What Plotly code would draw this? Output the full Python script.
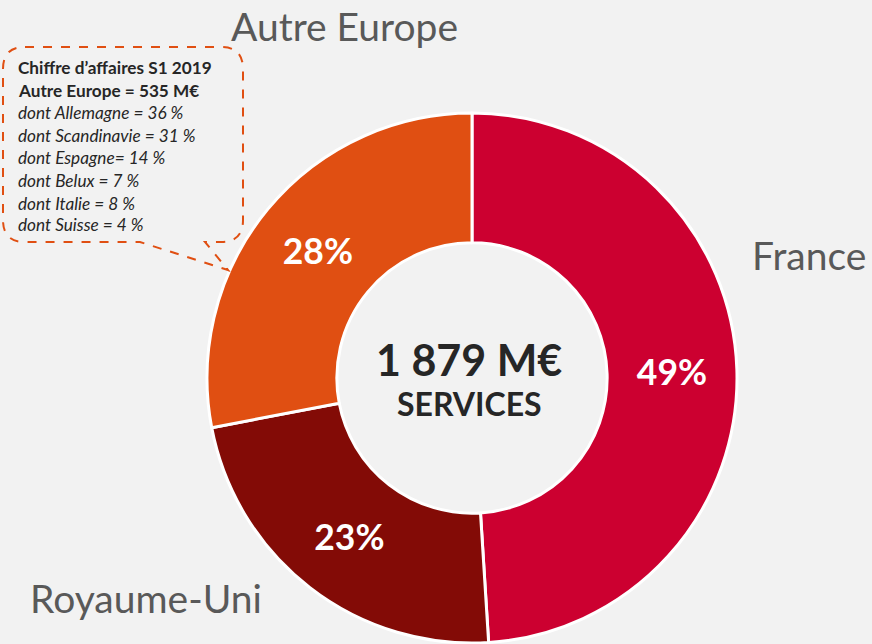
import plotly.graph_objects as go

regions = ["France", "Royaume-Uni", "Autre Europe"]
shares = [49, 23, 28]
colors = ["#CC0030", "#830B06", "#E04F12"]
total_label = "1 879 M€"
segment_label = "SERVICES"
callout_title = ["Chiffre d\u2019affaires S1 2019", "Autre Europe = 535 M€"]
callout_lines = ["dont Allemagne = 36 %", "dont Scandinavie = 31 %", "dont Espagne= 14 %",
                 "dont Belux = 7 %", "dont Italie = 8 %", "dont Suisse = 4 %"]

W, H = 872, 644
def px(x): return x / W
def py(y): return 1 - y / H

BG = "#F2F2F2"
FONT = "Lato"

fig = go.Figure(go.Pie(
    labels=regions, values=shares, sort=False, direction="clockwise", rotation=0,
    hole=0.51, marker=dict(colors=colors, line=dict(color="white", width=3)),
    text=[f"{v}%" for v in shares], textinfo="text", textposition="inside",
    insidetextorientation="horizontal",
    textfont=dict(family=FONT, size=35.5, color="white", weight="bold"),
    domain=dict(x=[px(207), px(737)], y=[py(643), py(113)]),
    showlegend=False, hoverinfo="label+percent",
))

ann = []
# outer labels
ann.append(dict(x=px(344), y=py(26), text="Autre Europe", font=dict(family=FONT, size=39, color="#595959")))
ann.append(dict(x=px(809), y=py(255), text="France", font=dict(family=FONT, size=39, color="#595959")))
ann.append(dict(x=px(146), y=py(598), text="Royaume-Uni", font=dict(family=FONT, size=39, color="#595959")))
# center
ann.append(dict(x=px(469), y=py(360), text=total_label, font=dict(family=FONT, size=43, color="#262626", weight="bold")))
ann.append(dict(x=px(469), y=py(403), text=segment_label, font=dict(family=FONT, size=32, color="#262626", weight="bold")))
# callout text
ys = [68, 91, 113, 136, 158, 181, 203, 225]
for i, t in enumerate(callout_title + callout_lines):
    bold = i < 2
    ann.append(dict(x=px(16), y=py(ys[i]), text=(f"<b>{t}</b>" if bold else f"<i>{t}</i>"),
                    xanchor="left", font=dict(family=FONT, size=17.2, color="#262626")))
for a in ann:
    a.setdefault("xanchor", "center")
    a.update(xref="paper", yref="paper", yanchor="middle", showarrow=False)

# callout bubble path (pixel coords -> paper)
L, R, T, B, r = 3, 243, 47, 242, 22
pts = [
    ("M", (L + r, T)), ("L", (R - r, T)), ("Q", (R, T), (R, T + r)), ("L", (R, B - r)),
    ("Q", (R, B), (R - r, B)), ("L", (205, B)), ("L", (228, 270)), ("L", (140, B)),
    ("L", (L + r, B)), ("Q", (L, B), (L, B - r)), ("L", (L, T + r)), ("Q", (L, T), (L + r, T)),
]
path = ""
for p in pts:
    cmd = p[0]
    coords = " ".join(f"{px(x):.5f},{py(y):.5f}" for (x, y) in p[1:])
    path += f"{cmd} {coords} "
path += "Z"

fig.update_layout(
    width=W, height=H, margin=dict(l=0, r=0, t=0, b=0),
    paper_bgcolor=BG, plot_bgcolor=BG,
    annotations=ann,
    shapes=[dict(type="path", xref="paper", yref="paper", path=path,
                 line=dict(color="#E04F12", width=2, dash="dash"), fillcolor="rgba(0,0,0,0)")],
)
fig.write_html("out.html", config={"displayModeBar": False},
               post_script="document.body.style.margin='0';document.body.style.background='#F2F2F2';")
